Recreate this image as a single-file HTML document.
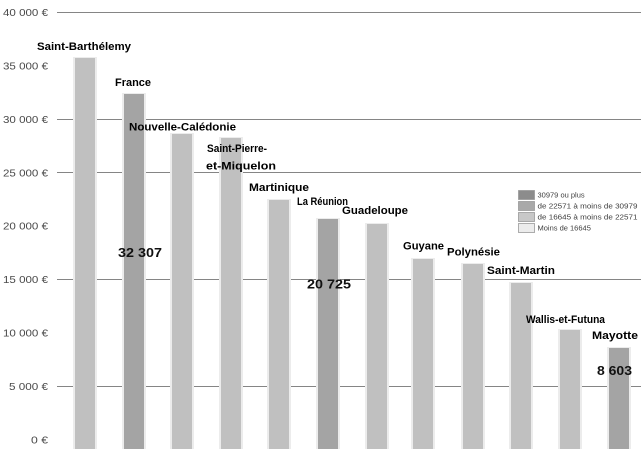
<!DOCTYPE html>
<html>
<head>
<meta charset="utf-8">
<style>
html,body{margin:0;padding:0;background:#fff;}
svg{display:block;}
text{font-family:"Liberation Sans",sans-serif;}
</style>
</head>
<body>
<svg width="644" height="449" viewBox="0 0 644 449" xmlns="http://www.w3.org/2000/svg">
<rect width="644" height="449" fill="#fff"/>
<!-- gridlines -->
<g stroke="#858585" stroke-width="1">
<line x1="57" y1="12.5" x2="641" y2="12.5"/>
<line x1="57" y1="119.5" x2="641" y2="119.5"/>
<line x1="57" y1="172.5" x2="641" y2="172.5"/>
<line x1="57" y1="279.5" x2="641" y2="279.5"/>
<line x1="57" y1="386.5" x2="641" y2="386.5"/>
</g>
<!-- y labels -->
<g font-size="10.5" fill="#4a4a4a" text-anchor="end">
<text x="48" y="16" textLength="45" lengthAdjust="spacingAndGlyphs">40 000 €</text>
<text x="48" y="69.5" textLength="45" lengthAdjust="spacingAndGlyphs">35 000 €</text>
<text x="48" y="123" textLength="45" lengthAdjust="spacingAndGlyphs">30 000 €</text>
<text x="48" y="176.5" textLength="45" lengthAdjust="spacingAndGlyphs">25 000 €</text>
<text x="48" y="229.5" textLength="45" lengthAdjust="spacingAndGlyphs">20 000 €</text>
<text x="48" y="283" textLength="45" lengthAdjust="spacingAndGlyphs">15 000 €</text>
<text x="48" y="336.5" textLength="45" lengthAdjust="spacingAndGlyphs">10 000 €</text>
<text x="48" y="390" textLength="39" lengthAdjust="spacingAndGlyphs">5 000 €</text>
<text x="48" y="443.5" textLength="17" lengthAdjust="spacingAndGlyphs">0 €</text>
</g>
<!-- bar halos -->
<g fill="#ececec">
<rect x="73" y="57" width="24" height="392"/>
<rect x="122" y="93" width="24" height="356"/>
<rect x="170" y="133" width="24" height="316"/>
<rect x="219" y="137" width="24" height="312"/>
<rect x="267" y="199" width="24" height="250"/>
<rect x="316" y="218" width="24" height="231"/>
<rect x="365" y="223" width="24" height="226"/>
<rect x="411" y="258" width="24" height="191"/>
<rect x="461" y="263" width="24" height="186"/>
<rect x="509" y="282" width="24" height="167"/>
<rect x="558" y="329" width="24" height="120"/>
<rect x="607" y="347" width="24" height="102"/>
</g>
<!-- bars -->
<g>
<rect x="75" y="58" width="20" height="391" fill="#c0c0c0"/>
<rect x="124" y="94" width="20" height="355" fill="#a4a4a4"/>
<rect x="172" y="134" width="20" height="315" fill="#c0c0c0"/>
<rect x="221" y="138" width="20" height="311" fill="#c0c0c0"/>
<rect x="269" y="200" width="20" height="249" fill="#c0c0c0"/>
<rect x="318" y="219" width="20" height="230" fill="#a4a4a4"/>
<rect x="367" y="224" width="20" height="225" fill="#c0c0c0"/>
<rect x="413" y="259" width="20" height="190" fill="#c0c0c0"/>
<rect x="463" y="264" width="20" height="185" fill="#c0c0c0"/>
<rect x="511" y="283" width="20" height="166" fill="#c0c0c0"/>
<rect x="560" y="330" width="20" height="119" fill="#c0c0c0"/>
<rect x="609" y="348" width="20" height="101" fill="#a4a4a4"/>
</g>
<!-- category labels -->
<g font-size="11" font-weight="bold" fill="#000">
<text x="37" y="50" textLength="94" lengthAdjust="spacingAndGlyphs">Saint-Barthélemy</text>
<text x="115" y="86" textLength="36" lengthAdjust="spacingAndGlyphs">France</text>
<text x="129" y="130.5" textLength="107" lengthAdjust="spacingAndGlyphs">Nouvelle-Calédonie</text>
<text x="207" y="152" textLength="60" lengthAdjust="spacingAndGlyphs">Saint-Pierre-</text>
<text x="206" y="169.5" textLength="70" lengthAdjust="spacingAndGlyphs">et-Miquelon</text>
<text x="249" y="191" textLength="60" lengthAdjust="spacingAndGlyphs">Martinique</text>
<text x="297" y="205" textLength="51" lengthAdjust="spacingAndGlyphs">La Réunion</text>
<text x="342" y="214" textLength="66" lengthAdjust="spacingAndGlyphs">Guadeloupe</text>
<text x="403" y="249.5" textLength="41" lengthAdjust="spacingAndGlyphs">Guyane</text>
<text x="447" y="255.5" textLength="53" lengthAdjust="spacingAndGlyphs">Polynésie</text>
<text x="487" y="274" textLength="68" lengthAdjust="spacingAndGlyphs">Saint-Martin</text>
<text x="526" y="323" textLength="79" lengthAdjust="spacingAndGlyphs">Wallis-et-Futuna</text>
<text x="592" y="339" textLength="46" lengthAdjust="spacingAndGlyphs">Mayotte</text>
</g>
<!-- data labels -->
<g font-size="13" font-weight="bold" fill="#111">
<text x="118" y="257" textLength="44" lengthAdjust="spacingAndGlyphs">32 307</text>
<text x="307" y="288.5" textLength="44" lengthAdjust="spacingAndGlyphs">20 725</text>
<text x="597" y="375" textLength="35" lengthAdjust="spacingAndGlyphs">8 603</text>
</g>
<!-- legend -->
<g stroke="#9a9a9a" stroke-width="0.8">
<rect x="518.5" y="190.5" width="16" height="9" fill="#8c8c8c"/>
<rect x="518.5" y="201.5" width="16" height="9" fill="#a9a9a9"/>
<rect x="518.5" y="212.5" width="16" height="9" fill="#c8c8c8"/>
<rect x="518.5" y="223.5" width="16" height="9" fill="#ececec"/>
</g>
<g font-size="7.5" fill="#404040">
<text x="537.5" y="197.5">30979 ou plus</text>
<text x="537.5" y="208.5" textLength="100" lengthAdjust="spacingAndGlyphs">de 22571 à moins de 30979</text>
<text x="537.5" y="219.5" textLength="100" lengthAdjust="spacingAndGlyphs">de 16645 à moins de 22571</text>
<text x="537.5" y="230.5">Moins de 16645</text>
</g>
</svg>
</body>
</html>
